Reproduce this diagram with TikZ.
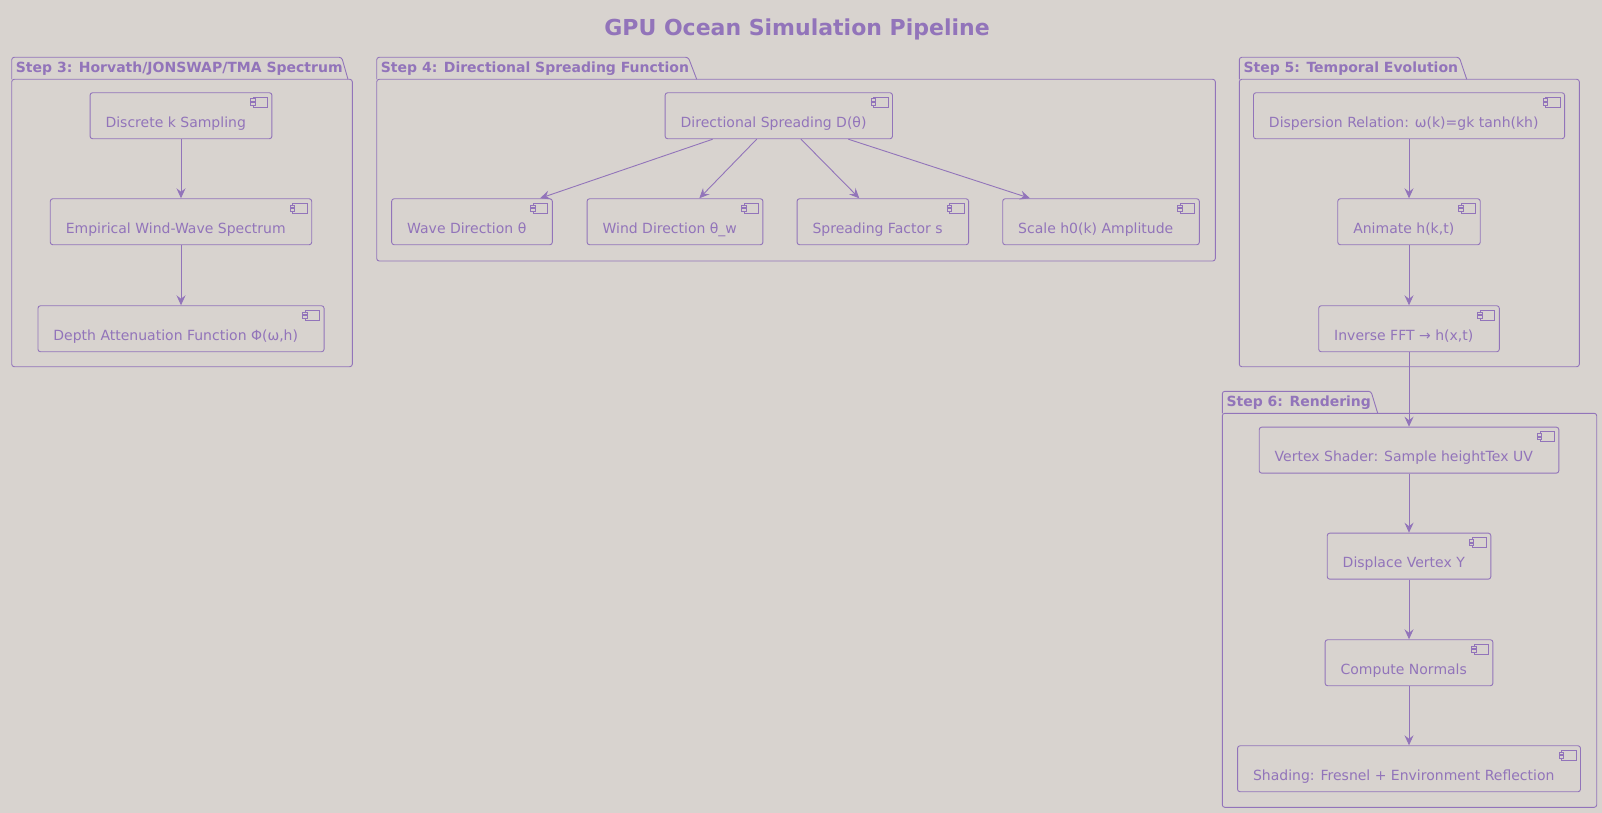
\documentclass[tikz,border=0pt]{standalone}
\usepackage{fontspec}
\setmainfont{DejaVu Sans}
\usetikzlibrary{arrows.meta,calc}
\definecolor{bg}{RGB}{216,211,207}
\definecolor{pc}{RGB}{146,116,186}
\tikzset{
  comp/.style={draw=pc, line width=0.9pt, rounded corners=2.5pt, text=pc,
    font=\fontsize{14}{16}\selectfont, inner xsep=15.5pt, inner ysep=0pt,
    text height=34.4pt, text depth=11.6pt, anchor=north},
  iconst/.style={draw=pc, line width=0.8pt, sharp corners},
  pkg/.style={draw=pc, line width=0.9pt, rounded corners=2.5pt},
  pkgtitle/.style={text=pc, font=\bfseries\fontsize{14}{16}\selectfont, inner sep=0pt, anchor=base west},
  conn/.style={draw=pc, line width=0.9pt, -{Stealth[length=10pt,width=9pt,inset=3.5pt]}}
}
\newcommand\compicon[1]{%
  \draw[iconst] ($(#1.north east)+(-19.3,5)$) rectangle ++(14.3,10);
  \draw[iconst,fill=bg] ($(#1.north east)+(-22,6.6)$) rectangle ++(4.6,2.6);
  \draw[iconst,fill=bg] ($(#1.north east)+(-22,10.4)$) rectangle ++(4.6,2.6);
}
\newcommand\rp{\kern10.5pt}
\begin{document}
\begin{tikzpicture}[x=1pt,y=-1pt]
\fill[bg] (0,0) rectangle (1602,813);
\useasboundingbox (0,0) rectangle (1602,813);

\node[text=pc, font=\bfseries\fontsize{22}{26}\selectfont, inner sep=0pt, anchor=base] (title) at (797,35.5) {GPU Ocean Simulation Pipeline};

% ---- Packages ----
% Step 3
\draw[pkg] (11.7,79.3) -- (11.7,57.3) -- (341.7,57.3) -- (348,79.3);
\draw[pkg] (11.7,79.3) rectangle (352.3,366.7);
\node[pkgtitle] (t3) at (15.7,72.5) {Step 3: Horvath/JONSWAP/TMA Spectrum};
% Step 4
\draw[pkg] (376.7,79.3) -- (376.7,57.3) -- (688.3,57.3) -- (696.7,79.3);
\draw[pkg] (376.7,79.3) rectangle (1215.3,261);
\node[pkgtitle] (t4) at (380.7,72.5) {Step 4: Directional Spreading Function};
% Step 5
\draw[pkg] (1239.3,79.3) -- (1239.3,57.3) -- (1459.3,57.3) -- (1466.7,79.3);
\draw[pkg] (1239.3,79.3) rectangle (1579.3,366.7);
\node[pkgtitle] (t5) at (1243.3,72.5) {Step 5: Temporal Evolution};
% Step 6
\draw[pkg] (1222.3,413.3) -- (1222.3,391.3) -- (1371,391.3) -- (1377.7,413.3);
\draw[pkg] (1222.3,413.3) rectangle (1596.7,807.3);
\node[pkgtitle] (t6) at (1226.3,406.3) {Step 6: Rendering};

% ---- Components ----
\node[comp] (dk) at (181,92.3) {Discrete k Sampling\rp};
\node[comp] (ew) at (181,198.3) {Empirical Wind-Wave Spectrum\rp};
\node[comp] (da) at (181,305.3) {Depth Attenuation Function Φ(ω,h)\rp};

\node[comp] (ds) at (778.8,92.3) {Directional Spreading D(θ)\rp};
\node[comp] (wd) at (472,198.3) {Wave Direction θ\rp};
\node[comp] (wi) at (675,198.3) {Wind Direction θ\_w\rp};
\node[comp] (sf) at (882.8,198.3) {Spreading Factor s\rp};
\node[comp] (sh) at (1101,198.3) {Scale h0(k) Amplitude\rp};

\node[comp] (dr) at (1409,92.3) {Dispersion Relation: ω(k)=gk tanh(kh)\rp};
\node[comp] (an) at (1409,198.3) {Animate h(k,t)\rp};
\node[comp] (fft) at (1409,305.3) {Inverse FFT → h(x,t)\rp};

\node[comp] (vs) at (1409,426.7) {Vertex Shader: Sample heightTex UV\rp};
\node[comp] (dv) at (1409,532.7) {Displace Vertex Y\rp};
\node[comp] (cn) at (1409,639.3) {Compute Normals\rp};
\node[comp] (sd) at (1409,745.3) {Shading: Fresnel + Environment Reflection\rp};

\foreach \n in {dk,ew,da,ds,wd,wi,sf,sh,dr,an,fft,vs,dv,cn,sd}{\compicon{\n}}

% ---- Connectors ----
\draw[conn] (dk) -- (ew);
\draw[conn] (ew) -- (da);
\draw[conn] ($(ds.south)+(-66.1,0)$) -- ($(wd.north)+(68,0)$);
\draw[conn] ($(ds.south)+(-22.1,0)$) -- ($(wi.north)+(24.3,0)$);
\draw[conn] ($(ds.south)+(22.2,0)$) -- ($(sf.north)+(-23.5,0)$);
\draw[conn] ($(ds.south)+(69.5,0)$) -- ($(sh.north)+(-71,0)$);
\draw[conn] (dr) -- (an);
\draw[conn] (an) -- (fft);
\draw[conn] (fft) -- (vs);
\draw[conn] (vs) -- (dv);
\draw[conn] (dv) -- (cn);
\draw[conn] (cn) -- (sd);
\end{tikzpicture}
\end{document}
